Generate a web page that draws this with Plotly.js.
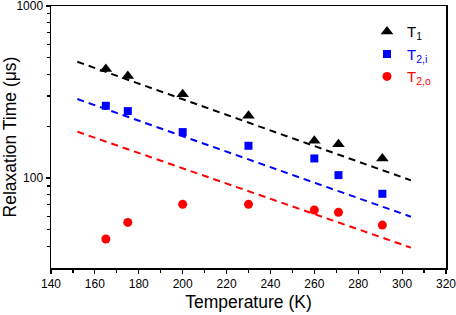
<!DOCTYPE html>
<html><head><meta charset="utf-8">
<script src="https://cdn.plot.ly/plotly-3.0.1.min.js"></script>
<style>html,body{margin:0;padding:0;background:#fff}#c{width:456px;height:315px}</style>
</head><body><div id="c"></div>
<script>
const temps = [165, 175, 200, 230, 260, 271, 291];
const t1 = [430, 392, 307, 230, 165, 157, 130];
const t2i = [263, 245, 185, 154, 130, 104, 81];
const t2o = [44.2, 55.2, 70.3, 70.3, 65.2, 63.2, 53.3];
const fitT = [152, 304];
const fitT1 = [474, 97];
const fitT2i = [288, 59.6];
const fitT2o = [186, 39.4];
const xTicks = [140,160,180,200,220,240,260,280,300,320];
const xMinor = [150,170,190,210,230,250,270,290,310];
const yMajor = [100, 1000];
const yMinor = [40,50,60,70,80,90,200,300,400,500,600,700,800,900];

const dash = '7px,5px';
const traces = [
  {x: fitT, y: fitT1, mode: 'lines', line: {color: '#000', width: 2, dash: dash}, showlegend: false, hoverinfo: 'skip'},
  {x: fitT, y: fitT2i, mode: 'lines', line: {color: '#0000ff', width: 2, dash: dash}, showlegend: false, hoverinfo: 'skip'},
  {x: fitT, y: fitT2o, mode: 'lines', line: {color: '#ff0000', width: 2, dash: dash}, showlegend: false, hoverinfo: 'skip'},
  {x: temps, y: t1, mode: 'markers', name: 'T<sub>1</sub>', marker: {symbol: 'triangle-up', size: 11, color: '#000'}},
  {x: temps, y: t2i, mode: 'markers', name: '<span style="color:#0000ff">T<sub>2,i</sub></span>', marker: {symbol: 'square', size: 8, color: '#0000ff'}},
  {x: temps, y: t2o, mode: 'markers', name: '<span style="color:#ff0000">T<sub>2,o</sub></span>', marker: {symbol: 'circle', size: 9, color: '#ff0000'}}
];
const font = {family: 'Liberation Sans, Arial, sans-serif', color: '#000'};
const layout = {
  width: 456, height: 315,
  margin: {l: 51, r: 10, t: 6, b: 47},
  paper_bgcolor: '#fff', plot_bgcolor: '#fff',
  font: Object.assign({size: 12}, font),
  showlegend: true,
  legend: {x: 0.80, y: 0.965, xanchor: 'left', yanchor: 'top', bgcolor: 'rgba(0,0,0,0)', font: Object.assign({size: 15}, font), tracegroupgap: 0},
  xaxis: {
    range: [140, 320], tickmode: 'array', tickvals: xTicks, ticklabeloverflow: 'allow',
    ticks: 'outside', ticklen: 4, tickwidth: 1.2, tickcolor: '#000',
    showline: true, linecolor: '#000', linewidth: 1.5, mirror: true,
    showgrid: false, zeroline: false,
    tickfont: Object.assign({size: 12}, font),
    minor: {tickmode: 'array', tickvals: xMinor, ticks: 'outside', ticklen: 3, tickcolor: '#000', showgrid: false},
    title: {text: 'Temperature (K)', font: Object.assign({size: 17.5}, font), standoff: 6}
  },
  yaxis: {
    type: 'log', range: [Math.log10(30), 3], tickmode: 'array', tickvals: yMajor, ticktext: ['100', '1000'], ticklabeloverflow: 'allow',
    ticks: 'outside', ticklen: 4, tickwidth: 1.2, tickcolor: '#000',
    showline: true, linecolor: '#000', linewidth: 1.5, mirror: true,
    showgrid: false, zeroline: false,
    tickfont: Object.assign({size: 12}, font),
    minor: {tickmode: 'array', tickvals: yMinor, ticks: 'outside', ticklen: 3, tickcolor: '#000', showgrid: false},
    title: {text: 'Relaxation Time (μs)', font: Object.assign({size: 17.5}, font), standoff: 4}
  }
};
Plotly.newPlot('c', traces, layout, {staticPlot: true});
</script></body></html>
